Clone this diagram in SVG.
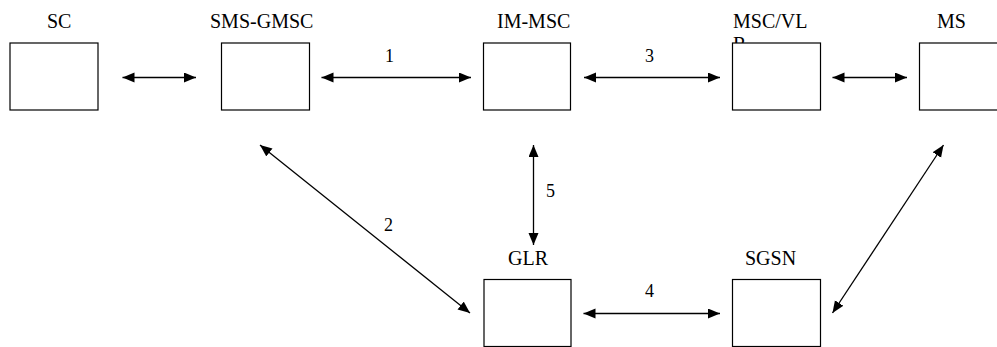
<svg xmlns="http://www.w3.org/2000/svg" width="997" height="347" viewBox="0 0 997 347">
<style>
.box{fill:#fff;stroke:#000;stroke-width:1.2}
.lbl{font-family:"Liberation Serif","Times New Roman",serif;font-size:20px;fill:#000}
.num{font-family:"Liberation Serif","Times New Roman",serif;font-size:18px;fill:#000}
.con{stroke:#000;stroke-width:1.3;fill:none;marker-start:url(#ah);marker-end:url(#ah)}
</style>
<defs>
<marker id="ah" markerUnits="userSpaceOnUse" markerWidth="13" markerHeight="11" refX="12" refY="5" orient="auto-start-reverse">
<path d="M0,0 L12,5 L0,10 z" fill="#000"/>
</marker>
</defs>
<rect width="997" height="347" fill="#fff"/>
<g id="SC"><text class="lbl" x="47" y="28">SC</text><rect class="box" x="10" y="43" width="88" height="67"/></g>
<g id="SMS-GMSC"><text class="lbl" x="210" y="28">SMS-GMSC</text><rect class="box" x="221.5" y="43" width="88" height="67"/></g>
<g id="IM-MSC"><text class="lbl" x="497" y="28">IM-MSC</text><rect class="box" x="483.5" y="43" width="87" height="67"/></g>
<g id="MSC-VLR"><text class="lbl" x="733" y="28">MSC/VL<tspan x="733" dy="23">R</tspan></text><rect class="box" x="732.5" y="43" width="88" height="67"/></g>
<g id="MS"><text class="lbl" x="937" y="28">MS</text><rect class="box" x="919.5" y="43" width="88" height="67"/></g>
<g id="GLR"><text class="lbl" x="508" y="265">GLR</text><rect class="box" x="484" y="279.5" width="87" height="67"/></g>
<g id="SGSN"><text class="lbl" x="745" y="265">SGSN</text><rect class="box" x="732.5" y="279.5" width="88" height="67"/></g>
<g id="connectors">
<line class="con" x1="122.5" y1="77.5" x2="196" y2="77.5"/>
<line class="con" x1="321.5" y1="77.5" x2="471" y2="77.5"/>
<line class="con" x1="584" y1="77.5" x2="720" y2="77.5"/>
<line class="con" x1="832.5" y1="77.5" x2="907" y2="77.5"/>
<line class="con" x1="260" y1="145" x2="470" y2="313"/>
<line class="con" x1="533.5" y1="145" x2="533.5" y2="245"/>
<line class="con" x1="583.5" y1="313.5" x2="720" y2="313.5"/>
<line class="con" x1="943.5" y1="145" x2="832.5" y2="313"/>
<text class="num" x="385" y="62">1</text>
<text class="num" x="645" y="62">3</text>
<text class="num" x="384" y="231">2</text>
<text class="num" x="546" y="197">5</text>
<text class="num" x="645" y="297">4</text>
</g>
</svg>
